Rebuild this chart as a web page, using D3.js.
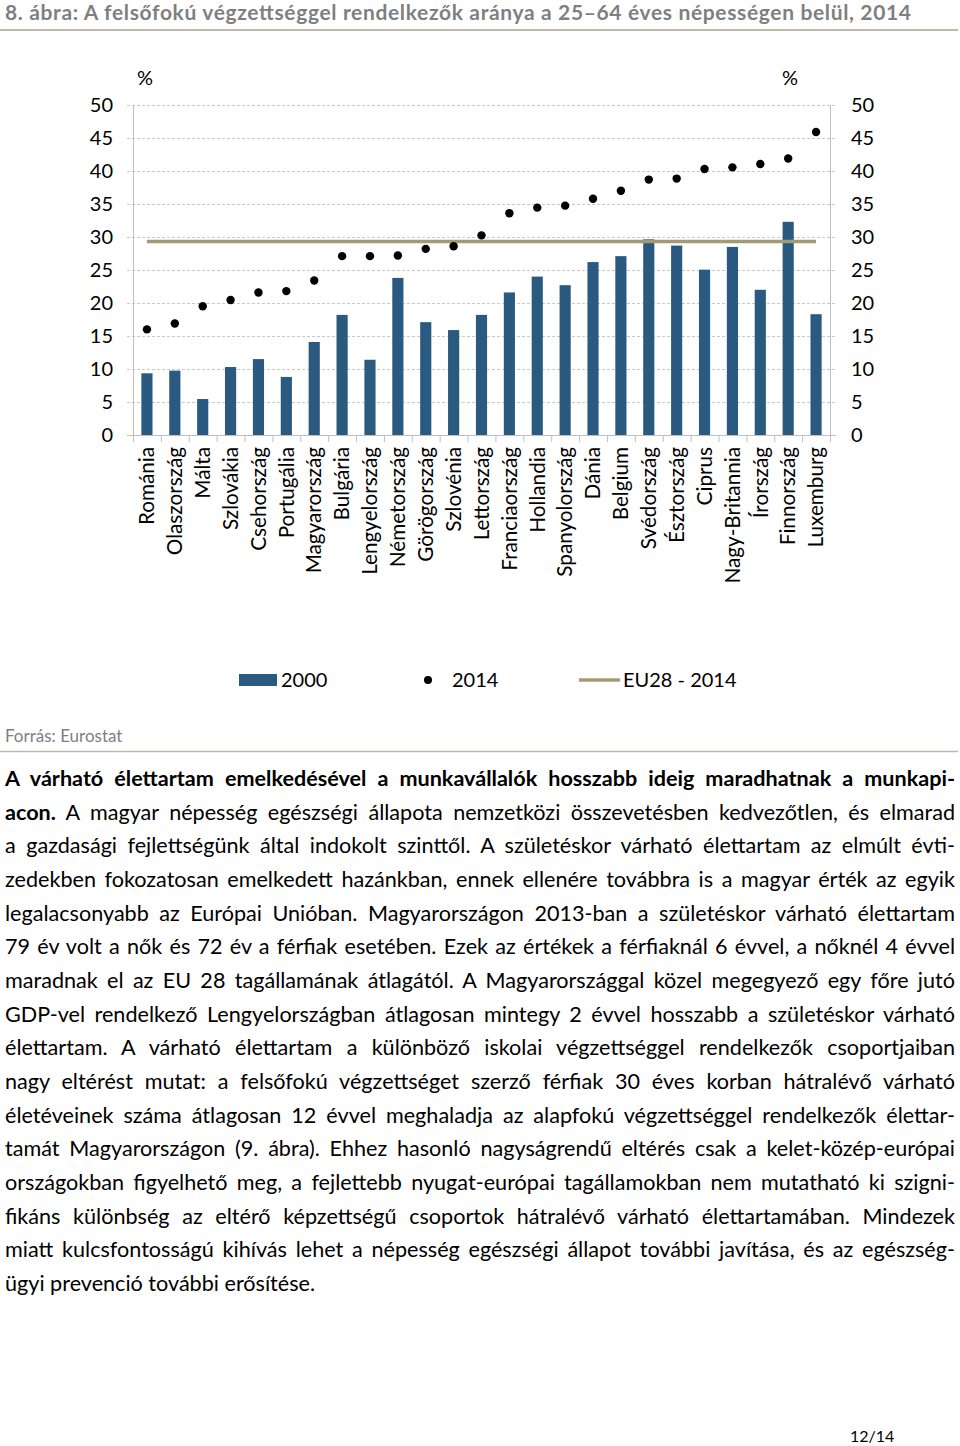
<!DOCTYPE html>
<html>
<head>
<meta charset="utf-8">
<script src="https://cdn.jsdelivr.net/npm/d3@7"></script>
<style>
  body { margin: 0; background: #fff; }
  svg { display: block; font-family: Lato, "Open Sans", sans-serif; }
</style>
</head>
<body>
<script>
// chart data
const countries = ["Románia", "Olaszország", "Málta", "Szlovákia", "Csehország", "Portugália",
  "Magyarország", "Bulgária", "Lengyelország", "Németország", "Görögország", "Szlovénia",
  "Lettország", "Franciaország", "Hollandia", "Spanyolország", "Dánia", "Belgium",
  "Svédország", "Észtország", "Ciprus", "Nagy-Britannia", "Írország", "Finnország", "Luxemburg"];
const values2000 = [9.35, 9.75, 5.45, 10.3, 11.5, 8.8, 14.1, 18.2, 11.4, 23.8, 17.1, 15.9,
  18.2, 21.6, 24.0, 22.7, 26.2, 27.1, 29.65, 28.7, 25.05, 28.5, 22.0, 32.3, 18.3];
const values2014 = [16.0, 16.9, 19.5, 20.45, 21.6, 21.8, 23.4, 27.1, 27.1, 27.2, 28.2, 28.6,
  30.25, 33.6, 34.45, 34.75, 35.8, 37.0, 38.7, 38.85, 40.3, 40.55, 41.05, 41.9, 45.9];
const eu28 = 29.3;
const yTicks = [0, 5, 10, 15, 20, 25, 30, 35, 40, 45, 50];
const legendLabels = ["2000", "2014", "EU28 - 2014"];

const title = "8. ábra: A felsőfokú végzettséggel rendelkezők aránya a 25–64 éves népességen belül, 2014";
const source = "Forrás: Eurostat";
const pageNumber = "12/14";
// each line: list of [text, bold]
const bodyLines = [
  [["A várható élettartam emelkedésével a munkavállalók hosszabb ideig maradhatnak a munkapi-", true]],
  [["acon.", true], [" A magyar népesség egészségi állapota nemzetközi összevetésben kedvezőtlen, és elmarad", false]],
  [["a gazdasági fejlettségünk által indokolt szinttől. A születéskor várható élettartam az elmúlt évti-", false]],
  [["zedekben fokozatosan emelkedett hazánkban, ennek ellenére továbbra is a magyar érték az egyik", false]],
  [["legalacsonyabb az Európai Unióban. Magyarországon 2013-ban a születéskor várható élettartam", false]],
  [["79 év volt a nők és 72 év a férfiak esetében. Ezek az értékek a férfiaknál 6 évvel, a nőknél 4 évvel", false]],
  [["maradnak el az EU 28 tagállamának átlagától. A Magyarországgal közel megegyező egy főre jutó", false]],
  [["GDP-vel rendelkező Lengyelországban átlagosan mintegy 2 évvel hosszabb a születéskor várható", false]],
  [["élettartam. A várható élettartam a különböző iskolai végzettséggel rendelkezők csoportjaiban", false]],
  [["nagy eltérést mutat: a felsőfokú végzettséget szerző férfiak 30 éves korban hátralévő várható", false]],
  [["életéveinek száma átlagosan 12 évvel meghaladja az alapfokú végzettséggel rendelkezők élettar-", false]],
  [["tamát Magyarországon (9. ábra). Ehhez hasonló nagyságrendű eltérés csak a kelet-közép-európai", false]],
  [["országokban figyelhető meg, a fejlettebb nyugat-európai tagállamokban nem mutatható ki szigni-", false]],
  [["fikáns különbség az eltérő képzettségű csoportok hátralévő várható élettartamában. Mindezek", false]],
  [["miatt kulcsfontosságú kihívás lehet a népesség egészségi állapot további javítása, és az egészség-", false]],
  [["ügyi prevenció további erősítése.", false]]
];

const width = 960, height = 1446;
const plot = {left: 133, right: 830, top: 105, bottom: 435};
const barColor = "#2b5a80", euColor = "#a29a74", gridColor = "#c9c9c9", axisColor = "#bfbfbf";
const ruleColor = "#c2b9ab", greyText = "#7f7f7f";

const data = countries.map((c, i) => ({country: c, v2000: values2000[i], v2014: values2014[i]}));

const x = d3.scaleBand(countries, [plot.left, plot.right]).paddingInner(0.6).paddingOuter(0.3);
const step = x.step();
const cx = c => x(c) + x.bandwidth() / 2;
const y = d3.scaleLinear([0, 50], [plot.bottom, plot.top]);

const svg = d3.select("body").append("svg")
    .attr("width", width)
    .attr("height", height)
    .attr("viewBox", [0, 0, width, height]);

// title + rule
svg.append("text")
    .attr("x", 5).attr("y", 20)
    .attr("font-size", 21).attr("font-weight", "bold").attr("font-style", "normal")
    .attr("fill", greyText)
    .attr("textLength", 906).attr("lengthAdjust", "spacing")
    .text(title);
svg.append("line")
    .attr("x1", 0).attr("x2", 958).attr("y1", 30).attr("y2", 30)
    .attr("stroke", ruleColor).attr("stroke-width", 2);

// dashed gridlines
svg.append("g")
  .selectAll("line")
  .data(yTicks)
  .join("line")
    .attr("x1", plot.left - 6).attr("x2", plot.right + 6)
    .attr("y1", d => y(d) + 0.5).attr("y2", d => y(d) + 0.5)
    .attr("stroke", d => d === 0 ? axisColor : gridColor)
    .attr("stroke-dasharray", d => d === 0 ? null : "3,2");

// axes lines
svg.append("line")
    .attr("x1", plot.left + 0.5).attr("x2", plot.left + 0.5)
    .attr("y1", plot.top).attr("y2", plot.bottom)
    .attr("stroke", axisColor);
svg.append("line")
    .attr("x1", plot.right + 0.5).attr("x2", plot.right + 0.5)
    .attr("y1", plot.top).attr("y2", plot.bottom)
    .attr("stroke", axisColor);

// category boundary ticks under the axis
svg.append("g")
  .selectAll("line")
  .data(d3.range(countries.length + 1))
  .join("line")
    .attr("x1", i => plot.left + i * step + 0.5)
    .attr("x2", i => plot.left + i * step + 0.5)
    .attr("y1", plot.bottom).attr("y2", plot.bottom + 7)
    .attr("stroke", axisColor);

// y tick labels, both sides
const tickLabels = svg.append("g").attr("font-size", 20).attr("fill", "#000");
tickLabels.selectAll(".left")
  .data(yTicks)
  .join("text")
    .attr("class", "left")
    .attr("x", 113).attr("y", d => y(d))
    .attr("dy", "0.36em")
    .attr("text-anchor", "end")
    .text(d => d);
tickLabels.selectAll(".right")
  .data(yTicks)
  .join("text")
    .attr("class", "right")
    .attr("x", 851).attr("y", d => y(d))
    .attr("dy", "0.36em")
    .text(d => d);
tickLabels.append("text").attr("x", 137).attr("y", 85).text("%");
tickLabels.append("text").attr("x", 782).attr("y", 85).text("%");

// bars (2000)
svg.append("g")
    .attr("fill", barColor)
  .selectAll("rect")
  .data(data)
  .join("rect")
    .attr("x", d => x(d.country))
    .attr("width", x.bandwidth())
    .attr("y", d => y(d.v2000))
    .attr("height", d => y(0) - y(d.v2000));

// EU28 line
svg.append("line")
    .attr("x1", cx(countries[0])).attr("x2", cx(countries[countries.length - 1]))
    .attr("y1", y(eu28)).attr("y2", y(eu28))
    .attr("stroke", euColor).attr("stroke-width", 3.5);

// dots (2014)
svg.append("g")
  .selectAll("circle")
  .data(data)
  .join("circle")
    .attr("cx", d => cx(d.country))
    .attr("cy", d => y(d.v2014))
    .attr("r", 4.2)
    .attr("fill", "#000");

// rotated category labels
svg.append("g")
    .attr("font-size", 20.7)
  .selectAll("text")
  .data(countries)
  .join("text")
    .attr("transform", d => `translate(${cx(d)},447) rotate(-90)`)
    .attr("dy", "0.35em")
    .attr("text-anchor", "end")
    .text(d => d);

// legend
const legend = svg.append("g").attr("font-size", 20);
legend.append("rect")
    .attr("x", 239).attr("y", 674).attr("width", 38).attr("height", 12)
    .attr("fill", barColor);
legend.append("text").attr("x", 281).attr("y", 687).text(legendLabels[0]);
legend.append("circle").attr("cx", 428).attr("cy", 680).attr("r", 4).attr("fill", "#000");
legend.append("text").attr("x", 452).attr("y", 687).text(legendLabels[1]);
legend.append("line")
    .attr("x1", 579).attr("x2", 620).attr("y1", 680).attr("y2", 680)
    .attr("stroke", euColor).attr("stroke-width", 3.5);
legend.append("text").attr("x", 623).attr("y", 687).text(legendLabels[2]);

// source + rule
svg.append("text")
    .attr("x", 5).attr("y", 742)
    .attr("font-size", 17).attr("fill", greyText)
    .text(source);
svg.append("line")
    .attr("x1", 0).attr("x2", 958).attr("y1", 751.5).attr("y2", 751.5)
    .attr("stroke", ruleColor).attr("stroke-width", 1.5);

// body text, justified line by line
const textWidth = 950;
const body = svg.append("g").attr("font-size", 21.6).attr("fill", "#000");
bodyLines.forEach((segs, i) => {
  const t = body.append("text")
      .attr("x", 5)
      .attr("y", 786 + i * 33.67)
      .style("white-space", "pre");
  segs.forEach(([s, b]) => t.append("tspan").attr("font-weight", b ? "bold" : null).text(s));
  if (i < bodyLines.length - 1) {
    const natural = t.node().getComputedTextLength();
    const spaces = segs.map(s => s[0]).join("").split(" ").length - 1;
    t.style("word-spacing", `${(textWidth - natural) / spaces}px`);
  }
});

// page number
svg.append("text")
    .attr("x", 850).attr("y", 1442)
    .attr("font-size", 16)
    .text(pageNumber);
</script>
</body>
</html>
